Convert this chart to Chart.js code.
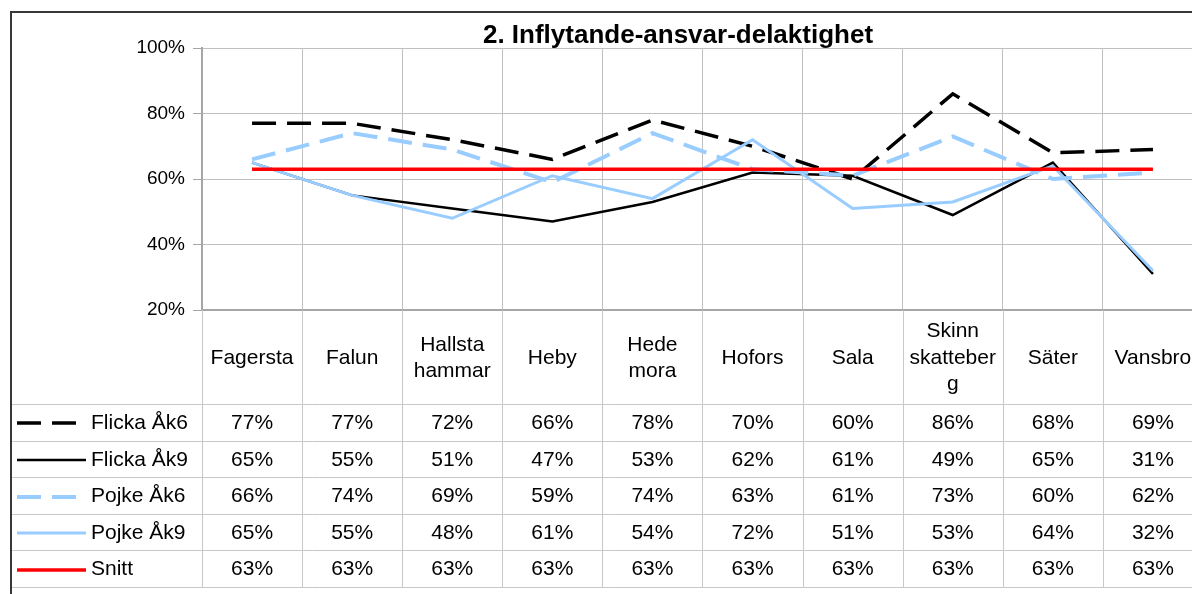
<!DOCTYPE html>
<html lang="sv">
<head>
    <meta charset="UTF-8">
    <title>2. Inflytande-ansvar-delaktighet</title>
    <style>
        html, body {
            margin: 0;
            padding: 0;
            background: #fff;
            overflow: hidden;
        }
        #chart {
            display: block;
        }
    </style>
</head>
<body>
    <canvas id="chart" width="1215" height="594"></canvas>

    <script src="https://cdn.jsdelivr.net/npm/chart.js@4/dist/chart.umd.min.js"></script>
    <script>
        // Skolor (kategorier) och resultat per grupp, i procent
        const categories = ['Fagersta', 'Falun', ['Hallsta', 'hammar'], 'Heby', ['Hede', 'mora'],
            'Hofors', 'Sala', ['Skinn', 'skatteber', 'g'], 'Säter', 'Vansbro'];
        const flickaAk6 = [77, 77, 72, 66, 78, 70, 60, 86, 68, 69];
        const flickaAk9 = [65, 55, 51, 47, 53, 62, 61, 49, 65, 31];
        const pojkeAk6 = [66, 74, 69, 59, 74, 63, 61, 73, 60, 62];
        const pojkeAk9 = [65, 55, 48, 61, 54, 72, 51, 53, 64, 32];
        const snitt = [63, 63, 63, 63, 63, 63, 63, 63, 63, 63];
        const yTicks = [20, 40, 60, 80, 100];

        const FONT = "'Liberation Sans', Arial, sans-serif";
        const TITLE = '2. Inflytande-ansvar-delaktighet';

        // tabellens mått under diagrammet
        const tableTop = 404;
        const rowH = 36.6;
        const keyX0 = 17, keyX1 = 86, labelX = 91;

        // ram, rubrik och datatabell med förklaring
        const tablePlugin = {
            id: 'dataTable',
            afterDraw(chart) {
                const ctx = chart.ctx;
                const area = chart.chartArea;
                const xs = chart.scales.x;
                const W = chart.width;
                const colW = xs.getPixelForValue(1) - xs.getPixelForValue(0);
                const rows = chart.data.datasets;

                ctx.save();

                // rubrik
                ctx.fillStyle = '#000';
                ctx.font = 'bold 26px ' + FONT;
                ctx.textAlign = 'center';
                ctx.textBaseline = 'middle';
                ctx.fillText(TITLE, 678, 36);

                // tabellinjer
                ctx.strokeStyle = '#c8c8c8';
                ctx.lineWidth = 1;
                for (let i = 0; i <= rows.length; i++) {
                    const y = Math.round(tableTop + i * rowH) + 0.5;
                    ctx.beginPath();
                    ctx.moveTo(12, y);
                    ctx.lineTo(W, y);
                    ctx.stroke();
                }
                const tableBottom = Math.round(tableTop + rows.length * rowH) + 0.5;
                for (let i = 0; i <= categories.length; i++) {
                    const x = Math.round(xs.getPixelForValue(0) - colW / 2 + i * colW) + 0.5;
                    ctx.beginPath();
                    ctx.moveTo(x, area.bottom);
                    ctx.lineTo(x, tableBottom);
                    ctx.stroke();
                }

                // kategorirubriker
                ctx.fillStyle = '#000';
                ctx.font = '21px ' + FONT;
                ctx.textAlign = 'center';
                const headMid = (area.bottom + tableTop) / 2 + 1;
                categories.forEach((c, i) => {
                    const lines = Array.isArray(c) ? c : [c];
                    const x = xs.getPixelForValue(i);
                    lines.forEach((t, j) => {
                        const y = headMid + (j - (lines.length - 1) / 2) * 26.5;
                        ctx.fillText(t, x, y);
                    });
                });

                // rader: förklaring + värden
                rows.forEach((ds, r) => {
                    const y = tableTop + (r + 0.5) * rowH + 1;
                    ctx.save();
                    ctx.strokeStyle = ds.borderColor;
                    ctx.lineWidth = ds.borderWidth;
                    ctx.setLineDash(ds.borderDash || []);
                    ctx.beginPath();
                    ctx.moveTo(keyX0, Math.round(y));
                    ctx.lineTo(keyX1, Math.round(y));
                    ctx.stroke();
                    ctx.restore();

                    ctx.textAlign = 'left';
                    ctx.fillText(ds.label, labelX, y);
                    ctx.textAlign = 'center';
                    ds.data.forEach((v, i) => {
                        ctx.fillText(v + '%', xs.getPixelForValue(i), y);
                    });
                });

                // yttre ram
                ctx.strokeStyle = '#383838';
                ctx.lineWidth = 2;
                ctx.beginPath();
                ctx.moveTo(11, 594);
                ctx.lineTo(11, 12);
                ctx.lineTo(W, 12);
                ctx.stroke();

                ctx.restore();
            }
        };

        const ctx = document.getElementById('chart').getContext('2d');
        new Chart(ctx, {
            type: 'line',
            data: {
                labels: categories,
                datasets: [
                    { label: 'Flicka Åk6', data: flickaAk6, borderColor: '#000000', borderWidth: 3.5, borderDash: [24, 11], order: 5 },
                    { label: 'Flicka Åk9', data: flickaAk9, borderColor: '#000000', borderWidth: 2.5, order: 4 },
                    { label: 'Pojke Åk6', data: pojkeAk6, borderColor: '#99ccff', borderWidth: 4, borderDash: [24, 11], order: 3 },
                    { label: 'Pojke Åk9', data: pojkeAk9, borderColor: '#99ccff', borderWidth: 3, order: 2 },
                    { label: 'Snitt', data: snitt, borderColor: '#ff0000', borderWidth: 3.5, order: 1 }
                ]
            },
            options: {
                responsive: false,
                animation: false,
                layout: {
                    padding: { left: 0, right: 12, top: 48, bottom: 284 }
                },
                elements: {
                    point: { radius: 0 },
                    line: { tension: 0, fill: false, borderCapStyle: 'butt' }
                },
                scales: {
                    x: {
                        offset: true,
                        grid: { offset: true, color: '#c0c0c0', drawTicks: false },
                        border: { color: '#a6a6a6', width: 2 },
                        ticks: { display: false },
                        afterFit(s) { s.height = 0; }
                    },
                    y: {
                        min: 20,
                        max: 100,
                        afterBuildTicks(s) { s.ticks = yTicks.map(v => ({ value: v })); },
                        grid: { color: '#c0c0c0', tickLength: 9, tickColor: '#a6a6a6' },
                        border: { color: '#a6a6a6', width: 2 },
                        ticks: {
                            color: '#000',
                            padding: 8,
                            font: { family: FONT, size: 19 },
                            callback: v => v + '%'
                        },
                        afterFit(s) { s.width = 202; }
                    }
                },
                plugins: {
                    legend: { display: false },
                    title: { display: false },
                    tooltip: { enabled: false }
                }
            },
            plugins: [tablePlugin]
        });
    </script>
</body>
</html>
